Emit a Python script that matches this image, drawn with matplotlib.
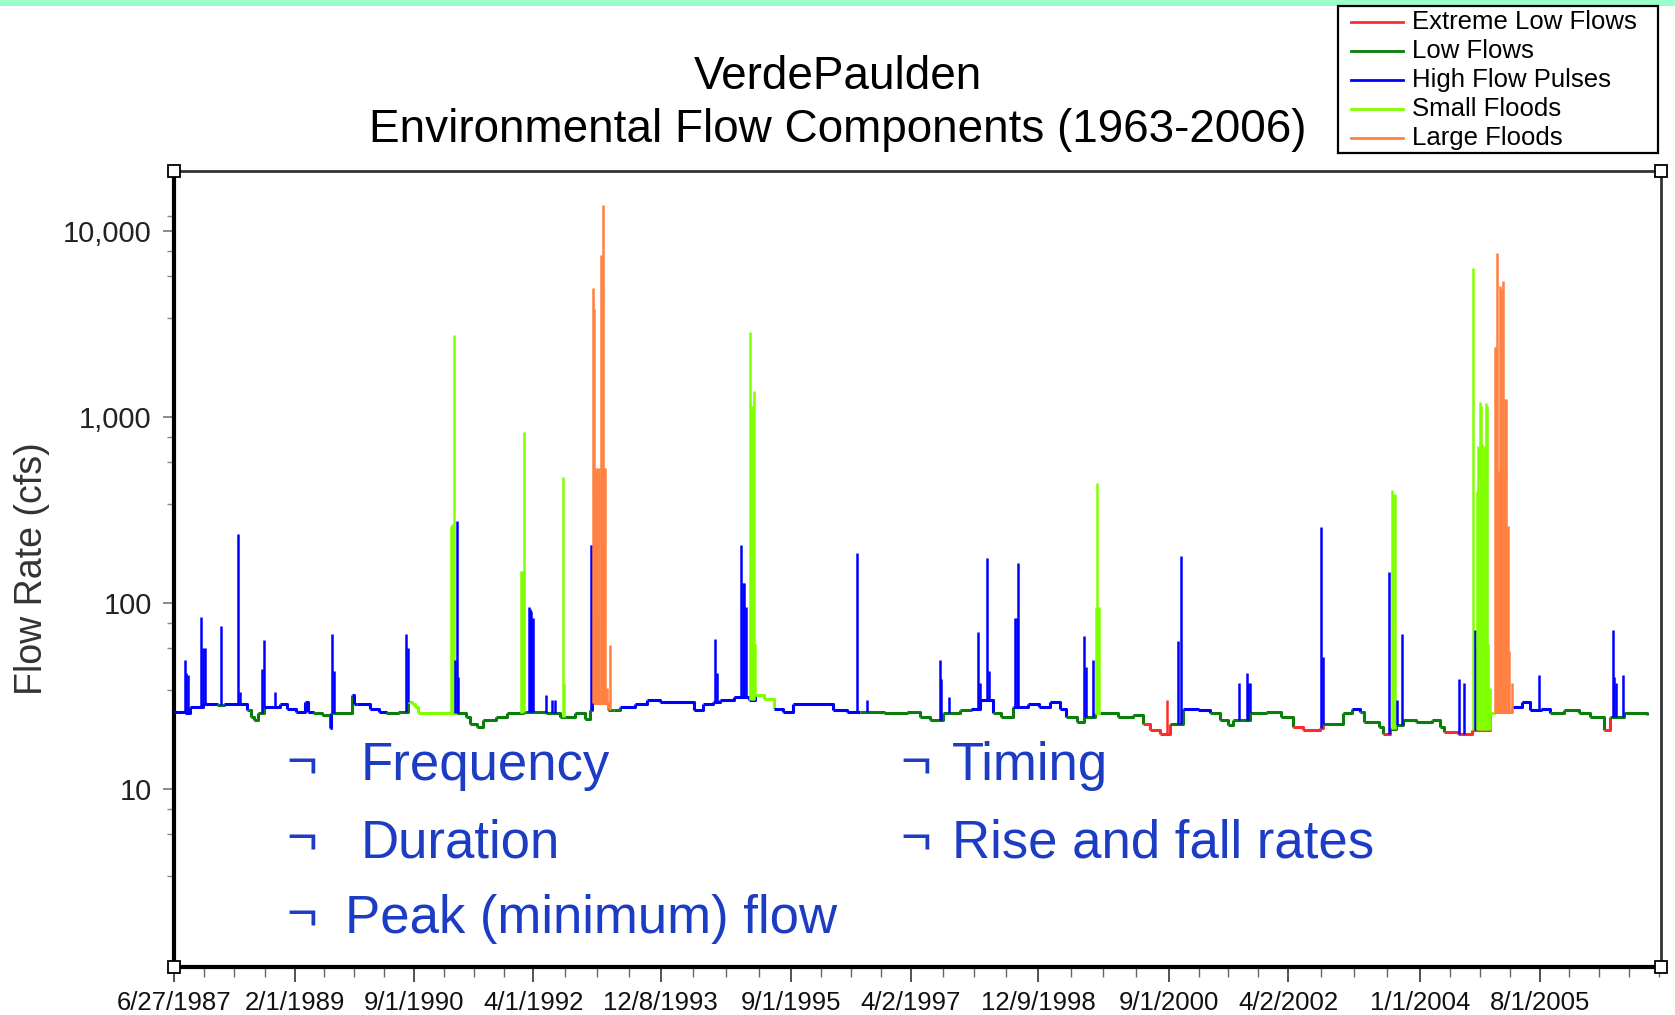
import numpy as np
import matplotlib
matplotlib.use("Agg")
import matplotlib.pyplot as plt
from matplotlib.lines import Line2D
from matplotlib.patches import Rectangle
from matplotlib.ticker import FixedLocator, NullFormatter

plt.rcParams['font.family'] = ['Liberation Sans', 'DejaVu Sans']

# ---------------- data ----------------
categories = ['Extreme Low Flows', 'Low Flows', 'High Flow Pulses', 'Small Floods', 'Large Floods']
cat_colors = ['#ff2a2a', '#0a7d0a', '#0000ff', '#80ff00', '#ff8040']
E, L, H, S, F = 0, 1, 2, 3, 4

# baseline flow (step series): decimal year, cfs, category
base_year = [1987.486, 1987.63, 1987.70, 1987.875, 1988.05, 1988.15, 1988.45, 1988.50, 1988.54, 1988.60,
             1988.68, 1988.89, 1988.98, 1989.10, 1989.22, 1989.26, 1989.33, 1989.45, 1989.55, 1989.57,
             1989.84, 1989.87, 1989.91, 1990.08, 1990.20, 1990.30, 1990.45, 1990.59, 1990.64, 1990.68,
             1990.72, 1991.24, 1991.35, 1991.41, 1991.50, 1991.58, 1991.75, 1991.90, 1992.11, 1992.42,
             1992.60, 1992.80, 1992.93, 1993.00, 1993.03, 1993.24, 1993.31, 1993.40, 1993.60, 1993.75,
             1993.93, 1994.37, 1994.50, 1994.63, 1994.72, 1994.90, 1995.10, 1995.18, 1995.30, 1995.43,
             1995.55, 1995.69, 1996.22, 1996.40, 1996.58, 1996.90, 1997.20, 1997.37, 1997.50, 1997.68,
             1997.90, 1998.05, 1998.17, 1998.34, 1998.45, 1998.61, 1998.80, 1998.95, 1999.10, 1999.23,
             1999.30, 1999.45, 1999.55, 1999.69, 1999.76, 2000.00, 2000.20, 2000.33, 2000.42, 2000.55,
             2000.68, 2000.86, 2001.05, 2001.21, 2001.35, 2001.45, 2001.52, 2001.74, 2001.95, 2002.15,
             2002.32, 2002.45, 2002.67, 2002.71, 2002.98, 2003.10, 2003.20, 2003.25, 2003.45, 2003.51,
             2003.60, 2003.68, 2003.77, 2003.95, 2004.15, 2004.26, 2004.31, 2004.50, 2004.69, 2004.93,
             2004.98, 2005.22, 2005.35, 2005.45, 2005.60, 2005.72, 2005.90, 2006.10, 2006.25, 2006.43,
             2006.51, 2006.70, 2007.00]
base_cfs = [25.9, 25.4, 27.5, 28.7, 28.2, 28.7, 26.4, 24.3, 23.3, 25.4,
            27.5, 28.7, 27.0, 25.9, 29.3, 25.9, 25.4, 24.8, 21.1, 25.4,
            31.8, 28.7, 28.7, 27.0, 25.9, 25.4, 25.9, 29.3, 28.7, 27.5,
            25.5, 25.4, 24.3, 22.4, 21.5, 23.3, 24.3, 25.4, 25.9, 25.4,
            24.3, 25.4, 23.8, 26.4, 29.0, 26.4, 26.4, 27.5, 28.7, 29.9,
            29.3, 26.4, 28.7, 29.3, 29.9, 31.1, 29.9, 31.8, 30.5, 27.0,
            25.9, 28.7, 26.4, 25.9, 25.9, 25.4, 25.9, 24.3, 23.3, 25.4,
            26.4, 27.0, 29.9, 25.4, 24.3, 27.5, 28.7, 27.5, 29.3, 27.0,
            24.3, 22.9, 24.3, 25.4, 25.4, 24.3, 24.8, 22.4, 20.6, 19.8,
            22.4, 27.0, 26.4, 25.4, 23.3, 21.9, 23.3, 25.4, 25.9, 24.3,
            21.5, 20.6, 21.1, 22.4, 25.4, 27.0, 25.9, 22.9, 21.5, 19.8,
            21.0, 22.0, 23.3, 22.9, 23.3, 21.5, 20.2, 19.8, 20.6, 25.4,
            26.0, 27.5, 29.3, 26.4, 27.0, 25.4, 26.4, 25.4, 24.3, 20.6,
            24.3, 25.4, 24.8]
base_cat = [H, H, H, H, L, H, L, L, L, L,
            H, H, H, H, H, H, L, L, H, L,
            H, H, H, H, H, L, L, S, S, S,
            S, L, L, L, L, L, L, L, L, L,
            L, L, L, L, F, L, L, H, H, H,
            H, H, H, H, H, H, H, S, S, H,
            H, H, H, H, L, L, L, L, L, L,
            L, H, H, L, L, H, H, H, H, H,
            L, L, L, S, L, L, L, E, E, E,
            L, H, H, L, L, L, L, L, L, L,
            E, E, E, L, L, H, L, L, L, E,
            L, L, L, L, L, L, E, E, E, S,
            F, H, H, H, H, L, L, L, L, E,
            L, L, L]

# peaks rising from the baseline: decimal year, peak cfs, category
spike_year = [1987.63, 1987.65, 1987.67, 1987.85, 1987.87, 1987.90, 1988.11, 1988.34, 1988.36, 1988.65,
              1988.68, 1988.82, 1989.58, 1989.61, 1990.56, 1990.59, 1991.15, 1991.17, 1991.19, 1991.21,
              1991.23, 1991.25, 1992.09, 1992.10, 1992.12, 1992.19, 1992.20, 1992.21, 1992.22, 1992.24,
              1992.42, 1992.50, 1992.54, 1992.64, 1992.66, 1993.01, 1993.02, 1993.035, 1993.05, 1993.06,
              1993.075, 1993.09, 1993.10, 1993.12, 1993.14, 1993.155, 1993.17, 1993.185, 1993.20, 1993.22,
              1993.26, 1994.66, 1994.68, 1995.00, 1995.02, 1995.04, 1995.06, 1995.12, 1995.14, 1995.15,
              1995.17, 1995.19, 1996.53, 1996.67, 1997.63, 1997.65, 1997.75, 1998.14, 1998.16, 1998.26,
              1998.28, 1998.63, 1998.65, 1998.67, 1999.55, 1999.57, 1999.66, 1999.70, 1999.71, 1999.72,
              1999.74, 2000.64, 2000.79, 2000.83, 2001.60, 2001.70, 2001.72, 2001.74, 2002.69, 2002.71,
              2003.59, 2003.62, 2003.64, 2003.66, 2003.69, 2003.76, 2004.51, 2004.58, 2004.70, 2004.72,
              2004.74, 2004.75, 2004.77, 2004.79, 2004.80, 2004.82, 2004.84, 2004.86, 2004.87, 2004.88,
              2004.90, 2004.92, 2004.99, 2005.00, 2005.02, 2005.03, 2005.04, 2005.06, 2005.07, 2005.09,
              2005.10, 2005.12, 2005.14, 2005.16, 2005.18, 2005.21, 2005.57, 2006.55, 2006.57, 2006.60,
              2006.68]
spike_cfs = [49, 42, 41, 84, 57, 57, 75, 233, 33, 44,
             63, 33, 68, 43, 68, 57, 258, 266, 2770, 49,
             277, 40, 149, 149, 831, 95, 93, 90, 83, 83,
             32, 30, 30, 476, 37, 204, 204, 4950, 3800, 530,
             380, 530, 85, 530, 7380, 530, 13700, 530, 530, 35,
             59, 64, 42, 204, 128, 128, 95, 2846, 1140, 1140,
             1373, 60, 186, 30, 49, 39, 31, 70, 37, 174,
             43, 83, 83, 163, 66, 45, 49, 95, 95, 441,
             95, 30, 62, 179, 37, 42, 37, 37, 256, 51,
             147, 406, 385, 385, 30, 68, 39, 37, 6300, 71,
             58, 400, 700, 1200, 1150, 718, 700, 630, 1190, 1150,
             60, 35, 2366, 2366, 7570, 513, 513, 5030, 4900, 5350,
             500, 1240, 1240, 260, 55, 37, 41, 71, 40, 37,
             41]
spike_cat = [H, H, H, H, H, H, H, H, H, H,
             H, H, H, H, H, H, S, S, S, H,
             H, H, S, S, S, H, H, H, H, H,
             H, H, H, S, S, H, H, F, F, F,
             F, F, F, F, F, F, F, F, F, F,
             F, H, H, H, H, H, H, S, S, S,
             S, S, H, H, H, H, H, H, H, H,
             H, H, H, H, H, H, H, S, S, S,
             S, E, H, H, H, H, H, H, H, H,
             H, S, S, S, H, H, H, H, S, H,
             H, S, S, S, S, S, S, S, S, S,
             S, S, F, F, F, F, F, F, F, F,
             F, F, F, F, F, F, H, H, H, H,
             H]

tick_labels = ['6/27/1987', '2/1/1989', '9/1/1990', '4/1/1992', '12/8/1993', '9/1/1995',
               '4/2/1997', '12/9/1998', '9/1/2000', '4/2/2002', '1/1/2004', '8/1/2005']
tick_years = [1987.486, 1989.085, 1990.666, 1992.249, 1993.934, 1995.666,
              1997.249, 1998.937, 2000.667, 2002.249, 2004.000, 2005.581]
y_ticks = [10, 100, 1000, 10000]
y_tick_labels = ['10', '100', '1,000', '10,000']

bullets_left = ['Frequency', 'Duration', 'Peak (minimum) flow']
bullets_right = ['Timing', 'Rise and fall rates']

# ---------------- figure ----------------
W, Hh = 1675, 1015
fig = plt.figure(figsize=(W / 100, Hh / 100), dpi=100)
fig.patch.set_facecolor('white')

def fx(px):
    return px / W

def fy(py):
    return 1 - py / Hh

ax = fig.add_axes([fx(174), fy(967), fx(1661) - fx(174), fy(171) - fy(967)])
ax.set_yscale('log')
ax.set_xlim(1987.486, 2007.19)
ax.set_ylim(1.1, 21000)

# baseline step series
by = np.array(base_year)
bc = np.array(base_cfs)
for i in range(len(by)):
    x0 = by[i]
    x1 = by[i + 1] if i + 1 < len(by) else by[i] + 0.001
    y1 = bc[i + 1] if i + 1 < len(by) else bc[i]
    ax.plot([x0, x1, x1], [bc[i], bc[i], y1], color=cat_colors[base_cat[i]],
            lw=2.2, solid_capstyle='butt', zorder=3)

# spikes
sy = np.array(spike_year)
idx = np.clip(np.searchsorted(by, sy, side='right') - 1, 0, len(by) - 1)
bottoms = bc[idx]
for x, b, p, c in zip(sy, bottoms, spike_cfs, spike_cat):
    ax.vlines(x, b, p, color=cat_colors[c], lw=1.8, zorder=4)

# axes styling
for side in ['left', 'bottom']:
    ax.spines[side].set_linewidth(3.0)
    ax.spines[side].set_color('black')
for side in ['top', 'right']:
    ax.spines[side].set_linewidth(2.0)
    ax.spines[side].set_color('#333333')

ax.set_xticks(tick_years)
ax.set_xticklabels(tick_labels, fontsize=18.5, color='#111111')
minor_x = []
for a, b in zip(tick_years[:-1], tick_years[1:]):
    minor_x += list(np.linspace(a, b, 5)[1:-1])
step = tick_years[-1] - tick_years[-2]
minor_x += [tick_years[-1] + step * k / 4 for k in (1, 2, 3, 4, 5)]
ax.xaxis.set_minor_locator(FixedLocator(minor_x))
ax.tick_params(axis='x', which='major', length=11, width=1.2, color='#333333', pad=6)
ax.tick_params(axis='x', which='minor', length=7, width=1.0, color='#666666')

ax.yaxis.set_major_locator(FixedLocator(y_ticks))
ax.set_yticklabels(y_tick_labels, fontsize=21, color='#222222')
minor_y = [m * d for d in (1, 10, 100, 1000) for m in (3.4, 5.7, 7.8)] + [12000]
ax.yaxis.set_minor_locator(FixedLocator(minor_y))
ax.yaxis.set_minor_formatter(NullFormatter())
ax.tick_params(axis='y', which='major', length=8, width=1.2, color='#777777', pad=8)
ax.tick_params(axis='y', which='minor', length=5, width=1.0, color='#888888')

# y label
fig.text(fx(32), fy(569), 'Flow Rate (cfs)', rotation=90, ha='center', va='center',
         fontsize=27, color='#333333')

# corner squares
ax.plot([0, 0, 1, 1], [0, 1, 0, 1], linestyle='none', marker='s', markersize=8,
        markerfacecolor='white', markeredgecolor='black', markeredgewidth=1.3,
        transform=ax.transAxes, clip_on=False, zorder=10)

# title
fig.text(0.5, fy(77), 'VerdePaulden', ha='center', va='center', fontsize=33, color='black')
fig.text(0.5, fy(130), 'Environmental Flow Components (1963-2006)', ha='center', va='center',
         fontsize=33, color='black')

# top band
fig.patches.append(Rectangle((0, fy(6)), 1, 6 / Hh, transform=fig.transFigure,
                             facecolor='#99ffcc', edgecolor='none', zorder=0))

# legend
fig.patches.append(Rectangle((fx(1338), fy(153)), fx(1658) - fx(1338), (153 - 6) / Hh,
                             transform=fig.transFigure, facecolor='white', edgecolor='black',
                             linewidth=1.6, zorder=5))
row_y = [22.4, 51.3, 80.1, 109.0, 137.8]
for name, col, ry in zip(categories, cat_colors, row_y):
    fig.add_artist(Line2D([fx(1351), fx(1403)], [fy(ry), fy(ry)], color=col, lw=2.0, zorder=6))
    fig.text(fx(1412), fy(ry), name, ha='left', va='center', fontsize=18.5, color='black', zorder=6)

# bullet text
blue = '#1c3cc4'
left_rows = [780, 857, 933]
left_x = [361, 361, 345]
for txt, ry, tx in zip(bullets_left, left_rows, left_x):
    fig.text(fx(286), fy(ry - 2), '\u00ac', ha='left', va='baseline', fontsize=38, color=blue)
    fig.text(fx(tx), fy(ry), txt, ha='left', va='baseline', fontsize=38, color=blue)
for txt, ry in zip(bullets_right, left_rows[:2]):
    fig.text(fx(900), fy(ry - 2), '\u00ac', ha='left', va='baseline', fontsize=38, color=blue)
    fig.text(fx(952), fy(ry), txt, ha='left', va='baseline', fontsize=38, color=blue)

fig.savefig('out.png', dpi=100, facecolor='white')
